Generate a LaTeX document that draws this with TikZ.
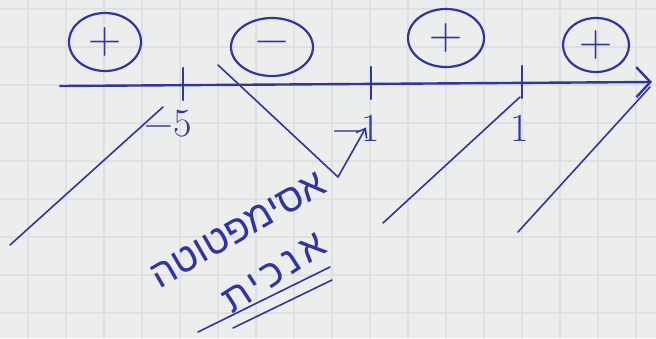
\documentclass[tikz,border=0pt]{standalone}
\usepackage{fontspec}
\usepackage{tikz}
\usetikzlibrary{arrows.meta, shapes.geometric}
\newfontfamily\hebfont[Script=Hebrew]{Liberation Sans}
\TeXXeTstate=1
\definecolor{pen}{RGB}{50,52,160}
\definecolor{paper}{RGB}{236,238,238}
\definecolor{gridline}{RGB}{221,225,227}

\begin{document}
\begin{tikzpicture}[x=1pt, y=-1pt, line cap=round,
  sign/.style={draw=pen, line width=2.2pt, ellipse, minimum width=72pt, minimum height=58pt,
               inner sep=0pt, text=pen, font=\fontsize{46}{46}\selectfont},
  ticklabel/.style={text=pen, inner sep=1pt, font=\fontsize{40}{40}\selectfont},
  heb/.style={text=pen, inner sep=0pt, font=\fontsize{39}{39}\selectfont\hebfont},
  stroke/.style={pen, line width=1.6pt}]
  \fill[paper] (0,0) rectangle (656,338);
  \useasboundingbox (0,0) rectangle (656,338);
  \foreach \gx in {28,66,...,656} \draw[gridline, line width=1.2pt] (\gx,0) -- (\gx,338);
  \foreach \gy in {9,47,...,338} \draw[gridline, line width=1.2pt] (0,\gy) -- (656,\gy);

  \coordinate (t1) at (183,85);
  \coordinate (t2) at (371,84);
  \coordinate (t3) at (522,83);
  \draw[pen, line width=2.4pt, -{Straight Barb[length=14pt, width=30pt, line width=2.4pt]}] (60,86) -- (652,82);
  \foreach \t in {t1,t2,t3} \draw[pen, line width=2.4pt] (\t) ++(0,-17) -- ++(0,32);

  \node[sign] (p1) at (105,42) {+};
  \node[sign, minimum width=82pt] (m1) at (272,47) {\textminus};
  \node[sign, minimum width=76pt] (p2) at (446,38) {+};
  \node[sign, minimum width=66pt, minimum height=54pt] (p3) at (596,45) {+};

  \node[ticklabel] (l1) at (168,124) {\textminus 5};
  \node[ticklabel] (l2) at (356,128) {\textminus 1};
  \node[ticklabel] (l3) at (520,128) {1};

  \coordinate (v) at (338,177);
  \draw[stroke] (10,245) -- (163,107);
  \draw[stroke] (218,65) -- (v);
  \draw[stroke, -{Straight Barb[length=8pt, width=12pt]}] (v) -- ([xshift=10pt, yshift=15pt]l2.south);
  \draw[stroke] (383,223) -- (520,97);
  \draw[stroke] (518,232) -- (650,87);

  \node[heb, rotate=30] (w1) at (238,230) {\beginR אסימפטוטה\endR};
  \node[heb, rotate=33] (w2) at (274,273) {\addfontfeatures{LetterSpace=12}\beginR אנכית\endR};
  \draw[stroke] (198,332) -- (330,267);
  \draw[stroke] (233,328) -- (332,280);
\end{tikzpicture}
\end{document}
